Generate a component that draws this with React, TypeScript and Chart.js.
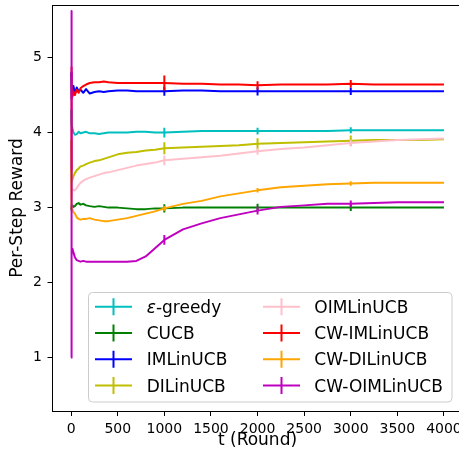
import { useEffect, useRef } from "react";
import { Chart, registerables } from "chart.js";

Chart.register(...registerables);

// Rounds at which the running per-step reward is sampled
const rounds = [
  1, 2, 4, 8, 15, 25, 40, 60, 80, 100, 130, 160, 200, 250, 300, 350, 400, 500,
  600, 700, 800, 900, 1000, 1200, 1400, 1600, 1800, 2000, 2250, 2500, 2750,
  3000, 3250, 3500, 3750, 4000,
];

// Per-step reward of each algorithm
const epsGreedy = [
  4.3, 4.25, 4.18, 4.1, 4.05, 4.0, 3.97, 3.98, 4.01, 3.99, 4.0, 4.01, 3.99,
  3.99, 3.98, 3.99, 4.0, 4.0, 4.0, 4.01, 4.01, 4.0, 4.0, 4.01, 4.02, 4.02,
  4.02, 4.02, 4.02, 4.02, 4.02, 4.03, 4.03, 4.03, 4.03, 4.03,
];
const cucb = [
  3.0, 2.97, 2.98, 3.02, 3.03, 3.01, 3.02, 3.05, 3.06, 3.04, 3.05, 3.03, 3.02,
  3.01, 3.02, 3.01, 3.0, 3.0, 2.99, 2.98, 2.98, 2.99, 2.99, 3.0, 3.0, 3.0, 3.0,
  3.0, 3.0, 3.0, 3.0, 3.0, 3.0, 3.0, 3.0, 3.0,
];
const imLinUCB = [
  4.8, 4.62, 4.45, 4.58, 4.5, 4.62, 4.52, 4.6, 4.55, 4.57, 4.53, 4.58, 4.52,
  4.54, 4.55, 4.54, 4.55, 4.56, 4.56, 4.55, 4.55, 4.55, 4.55, 4.56, 4.56, 4.55,
  4.55, 4.55, 4.55, 4.55, 4.55, 4.55, 4.55, 4.55, 4.55, 4.55,
];
const diLinUCB = [
  3.9, 3.55, 3.35, 3.33, 3.38, 3.42, 3.46, 3.5, 3.52, 3.55, 3.56, 3.58, 3.6,
  3.62, 3.63, 3.65, 3.67, 3.71, 3.73, 3.74, 3.76, 3.77, 3.79, 3.8, 3.81, 3.82,
  3.83, 3.85, 3.86, 3.87, 3.88, 3.89, 3.9, 3.9, 3.9, 3.91,
];
const oimLinUCB = [
  3.3, 3.2, 3.15, 3.22, 3.25, 3.23, 3.23, 3.26, 3.3, 3.33, 3.36, 3.38, 3.4,
  3.42, 3.44, 3.46, 3.47, 3.5, 3.53, 3.56, 3.58, 3.6, 3.63, 3.65, 3.67, 3.69,
  3.72, 3.75, 3.78, 3.8, 3.83, 3.86, 3.88, 3.9, 3.91, 3.92,
];
const cwIMLinUCB = [
  3.5, 4.87, 4.45, 4.6, 4.48, 4.55, 4.5, 4.57, 4.53, 4.59, 4.62, 4.64, 4.66,
  4.67, 4.67, 4.68, 4.67, 4.66, 4.66, 4.66, 4.66, 4.66, 4.66, 4.65, 4.65, 4.64,
  4.64, 4.63, 4.64, 4.64, 4.64, 4.65, 4.64, 4.64, 4.64, 4.64,
];
const cwDILinUCB = [
  3.5, 3.05, 2.98, 3.0, 2.97, 2.94, 2.92, 2.87, 2.85, 2.84, 2.85, 2.85, 2.86,
  2.84, 2.83, 2.82, 2.82, 2.84, 2.86, 2.89, 2.92, 2.95, 2.99, 3.05, 3.09, 3.15,
  3.19, 3.23, 3.27, 3.29, 3.31, 3.32, 3.33, 3.33, 3.33, 3.33,
];
const cwOIMLinUCB = [
  1.0, 5.62, 2.6, 2.42, 2.45, 2.4, 2.34, 2.3, 2.29, 2.28, 2.29, 2.28, 2.28,
  2.28, 2.28, 2.28, 2.28, 2.28, 2.28, 2.29, 2.35, 2.46, 2.57, 2.71, 2.79, 2.86,
  2.91, 2.96, 3.01, 3.03, 3.05, 3.05, 3.06, 3.07, 3.07, 3.07,
];

// Rounds where error bars are shown, and their half-widths
const errorRounds = [1000, 2000, 3000];
const epsGreedyErr = [0.065, 0.045, 0.04];
const cucbErr = [0.055, 0.05, 0.045];
const imLinUCBErr = [0.06, 0.055, 0.05];
const diLinUCBErr = [0.08, 0.075, 0.07];
const oimLinUCBErr = [0.065, 0.045, 0.045];
const cwIMLinUCBErr = [0.1, 0.055, 0.05];
const cwDILinUCBErr = [0.03, 0.03, 0.03];
const cwOIMLinUCBErr = [0.065, 0.05, 0.045];

const seriesLabels = [
  "ε-greedy",
  "CUCB",
  "IMLinUCB",
  "DILinUCB",
  "OIMLinUCB",
  "CW-IMLinUCB",
  "CW-DILinUCB",
  "CW-OIMLinUCB",
];
const seriesColors = [
  "#00bfbf",
  "#008000",
  "#0000ff",
  "#bfbf00",
  "#ffc0cb",
  "#ff0000",
  "#ffa500",
  "#bf00bf",
];
const seriesValues = [
  epsGreedy,
  cucb,
  imLinUCB,
  diLinUCB,
  oimLinUCB,
  cwIMLinUCB,
  cwDILinUCB,
  cwOIMLinUCB,
];
const seriesErrors = [
  epsGreedyErr,
  cucbErr,
  imLinUCBErr,
  diLinUCBErr,
  oimLinUCBErr,
  cwIMLinUCBErr,
  cwDILinUCBErr,
  cwOIMLinUCBErr,
];

const xTicks = [0, 500, 1000, 1500, 2000, 2500, 3000, 3500, 4000];
const yTicks = [1, 2, 3, 4, 5];
const xTitle = "t (Round)";
const yTitle = "Per-Step Reward";

const FONT = '"DejaVu Sans", sans-serif';

// Vertical error bars drawn right after each series' line
const errorBarPlugin = {
  id: "errorBars",
  afterDatasetDraw(chart: any, args: any) {
    const i = args.index;
    const { ctx, chartArea } = chart;
    const xs = chart.scales.x;
    const ys = chart.scales.y;
    ctx.save();
    ctx.beginPath();
    ctx.rect(chartArea.left, chartArea.top, chartArea.right - chartArea.left, chartArea.bottom - chartArea.top);
    ctx.clip();
    ctx.strokeStyle = seriesColors[i];
    ctx.lineWidth = 2;
    errorRounds.forEach((t, k) => {
      const c = seriesValues[i][rounds.indexOf(t)];
      const e = seriesErrors[i][k];
      const px = xs.getPixelForValue(t);
      ctx.beginPath();
      ctx.moveTo(px, ys.getPixelForValue(c - e));
      ctx.lineTo(px, ys.getPixelForValue(c + e));
      ctx.stroke();
    });
    ctx.restore();
  },
};

// Top spine, x-axis title and the two-column legend
const framePlugin = {
  id: "frameAndLegend",
  afterDraw(chart: any) {
    const { ctx, chartArea } = chart;
    ctx.save();
    ctx.strokeStyle = "#000";
    ctx.lineWidth = 1;
    ctx.beginPath();
    ctx.moveTo(chartArea.left, chartArea.top + 0.5);
    ctx.lineTo(chartArea.right + 4, chartArea.top + 0.5);
    ctx.stroke();

    // x-axis title, centred on the full axes width
    ctx.fillStyle = "#000";
    ctx.font = `17px ${FONT}`;
    ctx.textAlign = "center";
    ctx.textBaseline = "alphabetic";
    ctx.fillText(xTitle, 257.5, 444.5);

    // legend box
    ctx.beginPath();
    ctx.roundRect(88.5, 292.5, 363.5, 109.5, 4);
    ctx.fillStyle = "rgba(255,255,255,0.8)";
    ctx.fill();
    ctx.strokeStyle = "#cccccc";
    ctx.stroke();

    const handleX = [95, 263];
    const textX = [146.7, 314.3];
    const rowY = [306.7, 333.0, 359.2, 385.4];
    seriesLabels.forEach((label, i) => {
      const col = Math.floor(i / 4);
      const row = i % 4;
      const y = rowY[row];
      const hx = handleX[col];
      ctx.strokeStyle = seriesColors[i];
      ctx.lineWidth = 2;
      ctx.beginPath();
      ctx.moveTo(hx, y);
      ctx.lineTo(hx + 37, y);
      ctx.moveTo(hx + 18.5, y - 8.5);
      ctx.lineTo(hx + 18.5, y + 8.5);
      ctx.stroke();

      ctx.fillStyle = "#000";
      ctx.textBaseline = "alphabetic";
      ctx.textAlign = "left";
      let tx = textX[col];
      const by = y + 6.2;
      if (label.startsWith("ε")) {
        ctx.font = `italic 17px ${FONT}`;
        ctx.fillText("ε", tx, by);
        tx += ctx.measureText("ε").width;
        ctx.font = `17px ${FONT}`;
        ctx.fillText(label.slice(1), tx, by);
      } else {
        ctx.font = `17px ${FONT}`;
        ctx.fillText(label, tx, by);
      }
    });
    ctx.restore();
  },
};

export default function App() {
  const canvasRef = useRef<HTMLCanvasElement | null>(null);

  useEffect(() => {
    const canvas = canvasRef.current;
    if (!canvas) return;
    const n = seriesLabels.length;
    const chart = new Chart(canvas, {
      type: "line",
      data: {
        datasets: seriesLabels.map((label, i) => ({
          label,
          data: rounds.map((t, k) => ({ x: t, y: seriesValues[i][k] })),
          borderColor: seriesColors[i],
          backgroundColor: seriesColors[i],
          borderWidth: 2,
          pointRadius: 0,
          tension: 0,
          fill: false,
          borderJoinStyle: "round" as const,
          order: n - i,
        })),
      },
      options: {
        animation: false,
        responsive: false,
        devicePixelRatio: 1,
        events: [],
        layout: { padding: { top: 5, right: 0, left: 0, bottom: 0 } },
        plugins: {
          legend: { display: false },
          tooltip: { enabled: false },
        },
        scales: {
          x: {
            type: "linear",
            min: -200,
            max: 4161.4,
            afterFit: (s: any) => {
              s.height = 51;
              s.paddingLeft = 0;
              s.paddingRight = 0;
              s.paddingTop = 0;
              s.paddingBottom = 0;
            },
            afterBuildTicks: (s: any) => {
              s.ticks = xTicks.map((v) => ({ value: v }));
            },
            ticks: {
              autoSkip: false,
              maxRotation: 0,
              padding: 5,
              color: "#000",
              font: { family: FONT, size: 14 },
              callback: (v: any) => String(v),
            },
            grid: {
              display: true,
              drawOnChartArea: false,
              drawTicks: true,
              tickLength: 5,
              tickColor: "#000",
              tickWidth: 1,
            },
            border: { display: true, color: "#000", width: 1 },
            title: { display: false },
          },
          y: {
            type: "linear",
            min: 0.29,
            max: 5.7,
            afterFit: (s: any) => {
              s.width = 52.5;
              s.paddingLeft = 0;
              s.paddingRight = 0;
              s.paddingTop = 0;
              s.paddingBottom = 0;
            },
            afterBuildTicks: (s: any) => {
              s.ticks = yTicks.map((v) => ({ value: v }));
            },
            ticks: {
              padding: 5.5,
              color: "#000",
              font: { family: FONT, size: 14 },
              callback: (v: any) => String(v),
            },
            grid: {
              display: true,
              drawOnChartArea: false,
              drawTicks: true,
              tickLength: 5,
              tickColor: "#000",
              tickWidth: 1,
            },
            border: { display: true, color: "#000", width: 1 },
            title: {
              display: true,
              text: yTitle,
              color: "#000",
              font: { family: FONT, size: 17 },
              padding: { top: 7.8, bottom: 0 },
            },
          },
        },
      },
      plugins: [errorBarPlugin, framePlugin],
    });
    return () => chart.destroy();
  }, []);

  return (
    <div
      style={{
        position: "fixed",
        left: 0,
        top: 0,
        width: 459,
        height: 462,
        overflow: "hidden",
        background: "#fff",
      }}
    >
      <canvas ref={canvasRef} width={459} height={462} style={{ display: "block" }} />
    </div>
  );
}
